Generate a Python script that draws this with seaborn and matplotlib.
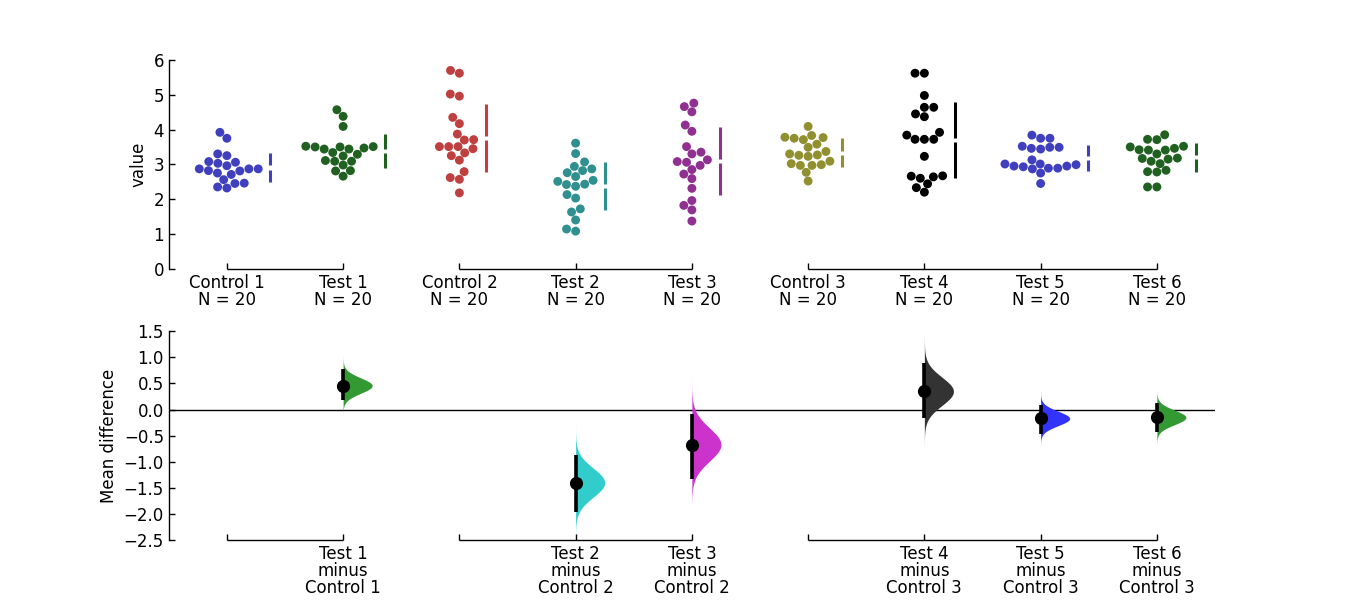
#!/usr/bin/env python3
# -*- coding: utf-8 -*-

import numpy as np
import pandas as pd
import matplotlib
matplotlib.use("Agg")
import matplotlib.pyplot as plt
import seaborn as sns

# ---- Data ----
groups = ["Control 1", "Test 1", "Control 2", "Test 2", "Test 3",
          "Control 3", "Test 4", "Test 5", "Test 6"]

control_1 = [3.92, 3.75, 3.25, 3.30, 3.08, 3.06, 3.03, 2.96, 2.87, 2.82,
             2.75, 2.71, 2.81, 2.87, 2.87, 2.56, 2.45, 2.46, 2.35, 2.32]
test_1 = [4.57, 4.38, 4.09, 3.52, 3.50, 3.47, 3.44, 3.50, 3.51, 3.44,
          3.29, 3.34, 3.24, 3.09, 3.09, 3.11, 2.98, 2.81, 2.82, 2.66]
control_2 = [5.70, 5.62, 5.02, 4.96, 4.35, 4.17, 3.87, 3.70, 3.71, 3.51,
             3.51, 3.51, 3.45, 3.33, 3.25, 3.12, 2.79, 2.62, 2.57, 2.18]
test_2 = [3.61, 3.31, 3.07, 2.87, 2.82, 2.94, 2.76, 2.65, 2.51, 2.42,
          2.37, 2.43, 2.54, 2.13, 2.03, 1.63, 1.72, 1.40, 1.14, 1.08]
test_3 = [4.66, 4.76, 4.51, 4.13, 3.95, 3.51, 3.30, 3.35, 3.08, 3.06,
          3.13, 2.85, 2.97, 2.72, 2.59, 2.31, 1.82, 1.96, 1.69, 1.37]
control_3 = [4.09, 3.78, 3.75, 3.71, 3.83, 3.77, 3.49, 3.58, 3.37, 3.27,
             3.23, 3.26, 3.30, 3.09, 3.02, 2.97, 2.97, 2.99, 2.77, 2.52]
test_4 = [5.62, 5.62, 4.98, 4.45, 4.64, 4.64, 4.37, 3.84, 3.72, 3.72,
          3.72, 3.92, 3.23, 2.66, 2.60, 2.64, 2.67, 2.44, 2.33, 2.20]
test_5 = [3.84, 3.75, 3.75, 3.52, 3.46, 3.44, 3.49, 3.49, 3.13, 3.01,
          2.95, 2.93, 2.87, 2.99, 2.89, 2.89, 2.95, 3.01, 2.75, 2.45]
test_6 = [3.72, 3.71, 3.85, 3.52, 3.46, 3.41, 3.30, 3.41, 3.42, 3.50,
          3.18, 3.15, 3.09, 3.17, 3.02, 2.79, 2.78, 2.83, 2.35, 2.35]

all_values = [control_1, test_1, control_2, test_2, test_3,
              control_3, test_4, test_5, test_6]

# comparisons: (test, control) and the bootstrap summary
comp_tests = ["Test 1", "Test 2", "Test 3", "Test 4", "Test 5", "Test 6"]
comp_controls = ["Control 1", "Control 2", "Control 2",
                 "Control 3", "Control 3", "Control 3"]
mean_diff = [0.46, -1.40, -0.67, 0.35, -0.17, -0.15]
ci_low = [0.19, -1.96, -1.34, -0.16, -0.46, -0.43]
ci_high = [0.77, -0.87, -0.09, 0.90, 0.08, 0.12]

# group brackets on the x axes
brackets = [("Control 1", "Test 1"), ("Control 2", "Test 3"), ("Control 3", "Test 6")]

swarm_colors = ["#4040bf", "#206020", "#bf4040", "#309090", "#903090",
                "#909030", "#000000", "#4040bf", "#206020"]
violin_colors = ["#339933", "#33cccc", "#cc33cc", "#333333", "#3333ff", "#339933"]


def main():
    sns.set_style("white")
    plt.rcParams.update({
        "font.family": ["DejaVu Sans"],
        "font.size": 12,
        "xtick.labelsize": 12,
        "ytick.labelsize": 12,
        "axes.labelsize": 12,
        "text.color": "black",
        "axes.labelcolor": "black",
        "xtick.color": "black",
        "ytick.color": "black",
        "xtick.direction": "in",
        "ytick.direction": "in",
        "xtick.major.size": 4,
        "ytick.major.size": 4,
        "xtick.major.width": 1,
        "ytick.major.width": 1,
        "xtick.bottom": True,
        "ytick.left": True,
        "axes.linewidth": 1,
        "axes.edgecolor": "black",
    })

    df = pd.DataFrame({
        "group": np.repeat(groups, [len(v) for v in all_values]),
        "value": np.concatenate(all_values),
    })

    fig, (ax1, ax2) = plt.subplots(2, 1, figsize=(13.5, 6), dpi=100)
    fig.subplots_adjust(left=0.125, right=0.9, top=0.9, bottom=0.1, hspace=0.3)
    fig.patch.set_facecolor("white")

    pos = {g: i for i, g in enumerate(groups)}

    # ---- Top: raw data swarms ----
    ax1.set_xlim(-0.5, 8.5)
    ax1.set_ylim(0, 6)
    sns.swarmplot(data=df, x="group", y="value", hue="group", order=groups,
                  hue_order=groups, palette=swarm_colors, size=6.4,
                  linewidth=0, legend=False, ax=ax1)
    ax1.set_xlim(-0.5, 8.5)
    ax1.set_ylim(0, 6)
    fig.canvas.draw()

    # mean +/- SD gap bars just right of each swarm
    for coll in ax1.collections:
        offs = np.asarray(coll.get_offsets(), dtype=float)
        if len(offs) == 0:
            continue
        i = int(round(np.median(offs[:, 0])))
        vals = np.asarray(all_values[i])
        m, sd = vals.mean(), vals.std(ddof=1)
        xb = offs[:, 0].max() + 0.105
        gap = 0.06
        ax1.vlines([xb, xb], [m - sd, m + gap], [m - gap, m + sd],
                   color=swarm_colors[i], lw=2.2)

    ax1.set_xlabel("")
    ax1.set_ylabel("value")
    ax1.set_xticks(range(len(groups)))
    ax1.set_xticklabels([f"{g}\nN = {len(v)}" for g, v in zip(groups, all_values)],
                        linespacing=0.95)
    ax1.set_yticks(range(0, 7))

    # ---- Bottom: effect sizes ----
    ax2.set_xlim(-0.5, 8.5)
    ax2.set_ylim(-2.5, 1.5)
    ax2.axhline(0, color="black", lw=1, zorder=1)
    for k, (t, md, lo, hi) in enumerate(zip(comp_tests, mean_diff, ci_low, ci_high)):
        x = pos[t]
        sigma = (hi - lo) / 3.92
        yy = np.linspace(md - 4 * sigma, md + 4 * sigma, 300)
        dens = np.exp(-0.5 * ((yy - md) / sigma) ** 2)
        ax2.fill_betweenx(yy, x, x + 0.25 * dens, color=violin_colors[k],
                          alpha=1, lw=0, zorder=2)
        ax2.vlines(x, lo, hi, color="black", lw=2.6, zorder=3)
    sns.scatterplot(x=[pos[t] for t in comp_tests], y=mean_diff, color="black",
                    s=90, linewidth=0, zorder=4, ax=ax2)
    ax2.set_xlim(-0.5, 8.5)
    ax2.set_ylim(-2.5, 1.5)
    ax2.set_ylabel("Mean difference")
    ax2.set_xticks(range(len(groups)))
    labels = []
    for g in groups:
        if g in comp_tests:
            labels.append(f"{g}\nminus\n{comp_controls[comp_tests.index(g)]}")
        else:
            labels.append("")
    ax2.set_xticklabels(labels, linespacing=0.95)
    ax2.set_yticks(np.arange(-2.5, 1.51, 0.5))

    # ---- Spines: left only, bottom drawn as group brackets ----
    for ax in (ax1, ax2):
        for side in ("top", "right", "bottom"):
            ax.spines[side].set_visible(False)
        ax.tick_params(top=False, right=False)
        ybot = ax.get_ylim()[0]
        for a, b in brackets:
            ax.hlines(ybot, pos[a], pos[b], color="black", lw=1, clip_on=False)

    fig.savefig("out.png", dpi=100, facecolor="white")
    plt.close(fig)


if __name__ == "__main__":
    main()
